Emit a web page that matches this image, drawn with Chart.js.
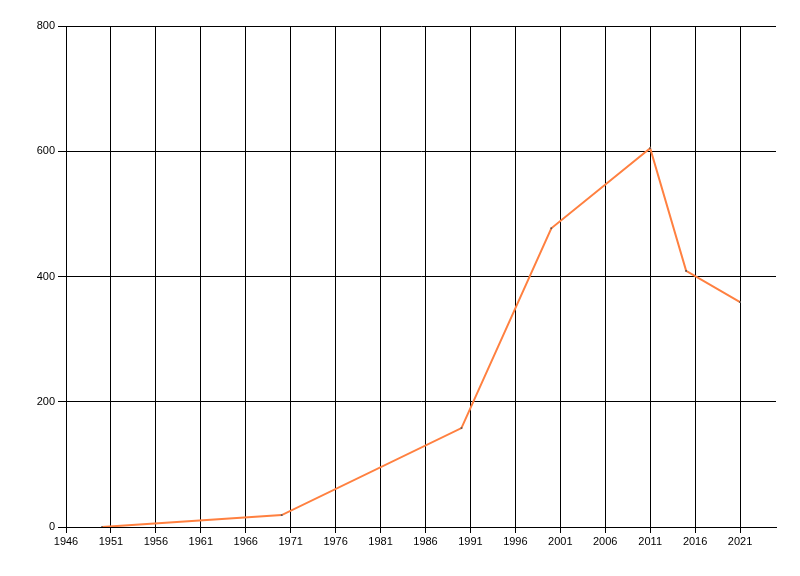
<!DOCTYPE html>
<html lang="en">
<head>
  <meta charset="UTF-8">
  <title>Line chart</title>
  <style>
    html, body { margin: 0; padding: 0; background: #fff; }
    #wrap { width: 800px; height: 576px; }
  </style>
</head>
<body>
  <div id="wrap"><canvas id="chart" width="800" height="576"></canvas></div>

  <script src="https://cdn.jsdelivr.net/npm/chart.js"></script>
  <script>
    // Data
    const years = [1950, 1970, 1990, 2000, 2011, 2015, 2021];
    const values = [0, 19, 158, 477, 605, 409, 359];
    const xTicks = [1946, 1951, 1956, 1961, 1966, 1971, 1976, 1981, 1986, 1991, 1996, 2001, 2006, 2011, 2016, 2021];
    const yTicks = [0, 200, 400, 600, 800];

    const font = { family: 'Liberation Sans, Arial, sans-serif', size: 11 };

    new Chart(document.getElementById('chart').getContext('2d'), {
      type: 'line',
      data: {
        datasets: [{
          data: years.map((y, i) => ({ x: y, y: values[i] })),
          borderColor: '#ff8040',
          borderWidth: 2,
          pointStyle: 'rect',
          pointRadius: 1.2,
          pointBackgroundColor: '#555',
          pointBorderColor: '#555',
          pointBorderWidth: 0,
          tension: 0,
          fill: false
        }]
      },
      options: {
        responsive: false,
        animation: false,
        layout: { padding: { left: 0, top: 26, right: 24, bottom: 0 } },
        plugins: { legend: { display: false }, tooltip: { enabled: false } },
        scales: {
          x: {
            type: 'linear',
            min: 1946,
            max: 2025,
            afterBuildTicks: s => { s.ticks = xTicks.map(v => ({ value: v })); },
            afterFit: s => { s.height = 49; },
            ticks: { color: '#000', font: font, padding: 2, maxRotation: 0, autoSkip: false,
                     callback: v => String(v) },
            grid: { color: '#000', lineWidth: 1, tickLength: 6, drawTicks: true },
            border: { color: '#000', width: 1 }
          },
          y: {
            min: 0,
            max: 800,
            afterBuildTicks: s => { s.ticks = yTicks.map(v => ({ value: v })); },
            afterFit: s => { s.width = 66; },
            ticks: { color: '#000', font: font, padding: 3, callback: v => String(v) },
            grid: { color: '#000', lineWidth: 1, tickLength: 8, drawTicks: true },
            border: { color: '#000', width: 1 }
          }
        }
      }
    });
  </script>
</body>
</html>
